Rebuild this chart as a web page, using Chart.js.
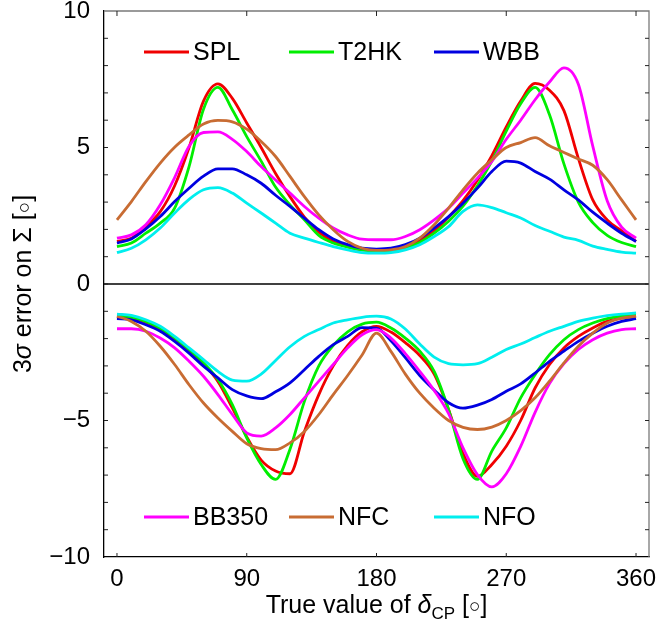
<!DOCTYPE html>
<html>
<head>
<meta charset="utf-8">
<script src="https://cdn.jsdelivr.net/npm/chart.js@4.4.1/dist/chart.umd.min.js"></script>
<style>
  html, body { margin: 0; padding: 0; background: #fff; }
  #wrap { width: 660px; height: 623px; }
</style>
</head>
<body>
<div id="wrap"><canvas id="chart" width="660" height="623"></canvas></div>
<script>
// true value of delta_CP [deg]
const deltaCP = [0, 10, 20, 30, 40, 50, 60, 70, 80, 90, 100, 110, 120, 130, 140, 150, 160, 170, 180,
                 190, 200, 210, 220, 230, 240, 250, 260, 270, 280, 290, 300, 310, 320, 330, 340, 350, 360];

const xTicks = [0, 90, 180, 270, 360];
const yTicks = [-10, -5, 0, 5, 10];

const experiments = ["SPL", "T2HK", "WBB", "BB350", "NFC", "NFO"];
const colors = ["#f00000", "#00ee00", "#0000e0", "#ff00ff", "#c86c33", "#00eeee"];

// upper (+) and lower (-) 3 sigma error on Sigma [deg]
const splUpper = [1.56, 1.68, 2.1, 2.65, 3.6, 5.0, 6.7, 7.33, 6.8, 5.9, 5.0, 4.05, 3.2, 2.45, 1.9, 1.56, 1.37, 1.25, 1.23,
                  1.28, 1.4, 1.6, 1.95, 2.45, 3.05, 3.8, 4.7, 5.75, 6.7, 7.35, 7.1, 6.35, 4.6, 3.08, 2.35, 1.95, 1.56];
const splLower = [-1.22, -1.26, -1.4, -1.66, -2.0, -2.42, -2.92, -3.57, -4.54, -5.6, -6.45, -6.85, -6.95, -5.4, -4.05, -3.0, -2.25, -1.75, -1.55,
                  -1.76, -2.15, -2.62, -3.3, -4.6, -6.2, -7.05, -6.61, -5.94, -5.0, -3.81, -2.95, -2.34, -1.92, -1.61, -1.37, -1.25, -1.18];

const t2hkUpper = [1.37, 1.5, 1.86, 2.23, 2.78, 4.3, 6.4, 7.2, 6.38, 5.4, 4.5, 3.55, 2.9, 2.35, 1.78, 1.5, 1.35, 1.25, 1.22,
                   1.2, 1.31, 1.52, 1.86, 2.3, 2.85, 3.6, 4.5, 5.6, 6.6, 7.2, 6.2, 4.4, 3.0, 2.25, 1.78, 1.52, 1.37];
const t2hkLower = [-1.18, -1.22, -1.37, -1.62, -1.97, -2.4, -2.89, -3.5, -4.42, -5.64, -6.61, -7.16, -6.05, -4.3, -3.0, -2.25, -1.75, -1.47, -1.4,
                   -1.61, -1.98, -2.46, -3.2, -4.6, -6.4, -7.16, -6.12, -5.27, -4.17, -3.32, -2.59, -2.04, -1.67, -1.43, -1.27, -1.18, -1.15];

const wbbUpper = [1.5, 1.65, 2.02, 2.47, 3.02, 3.51, 3.95, 4.22, 4.22, 4.0, 3.69, 3.25, 2.84, 2.41, 1.99, 1.65, 1.44, 1.31, 1.28,
                  1.31, 1.44, 1.68, 2.05, 2.47, 2.96, 3.51, 4.12, 4.5, 4.43, 4.12, 3.84, 3.45, 3.08, 2.63, 2.23, 1.86, 1.56];
const wbbLower = [-1.27, -1.31, -1.49, -1.73, -2.1, -2.53, -3.01, -3.44, -3.87, -4.1, -4.2, -3.95, -3.62, -3.14, -2.65, -2.22, -1.92, -1.6, -1.62,
                  -2.08, -2.7, -3.35, -3.88, -4.35, -4.55, -4.44, -4.23, -3.93, -3.66, -3.26, -2.83, -2.46, -2.1, -1.8, -1.55, -1.37, -1.27];

const bb350Upper = [1.68, 1.8, 2.17, 2.9, 3.9, 5.05, 5.55, 5.57, 5.3, 4.85, 4.3, 3.81, 3.33, 2.84, 2.41, 2.05, 1.8, 1.64, 1.62,
                    1.62, 1.74, 1.99, 2.35, 2.78, 3.33, 3.88, 4.49, 5.3, 6.0, 6.75, 7.4, 7.92, 7.32, 5.05, 3.05, 2.08, 1.68];
const bb350Lower = [-1.64, -1.64, -1.73, -1.98, -2.34, -2.83, -3.38, -4.05, -4.78, -5.45, -5.57, -5.27, -4.78, -4.17, -3.56, -2.95, -2.34, -1.86, -1.67,
                    -1.98, -2.55, -3.2, -3.9, -4.75, -6.0, -6.98, -7.43, -6.95, -5.95, -4.7, -3.65, -2.92, -2.4, -2.04, -1.8, -1.67, -1.64];

const nfcUpper = [2.35, 3.02, 3.75, 4.43, 5.01, 5.46, 5.86, 5.99, 5.94, 5.67, 5.22, 4.67, 3.94, 3.2, 2.53, 1.99, 1.56, 1.31, 1.23,
                  1.25, 1.37, 1.68, 2.17, 2.78, 3.45, 4.06, 4.55, 5.0, 5.18, 5.36, 5.06, 4.82, 4.58, 4.35, 3.82, 3.08, 2.35];
const nfcLower = [-1.18, -1.37, -1.73, -2.28, -2.95, -3.69, -4.36, -4.91, -5.4, -5.85, -6.03, -6.07, -5.82, -5.4, -4.78, -4.05, -3.35, -2.6, -1.8,
                  -2.47, -3.3, -4.0, -4.55, -5.0, -5.25, -5.33, -5.24, -5.0, -4.64, -4.17, -3.56, -2.89, -2.28, -1.8, -1.43, -1.25, -1.18];

const nfoUpper = [1.15, 1.31, 1.62, 2.05, 2.6, 3.1, 3.45, 3.53, 3.33, 2.96, 2.6, 2.23, 1.86, 1.68, 1.52, 1.37, 1.25, 1.15, 1.13,
                  1.15, 1.25, 1.44, 1.74, 2.1, 2.66, 2.9, 2.8, 2.61, 2.42, 2.14, 1.93, 1.72, 1.6, 1.39, 1.27, 1.17, 1.13];
const nfoLower = [-1.1, -1.15, -1.31, -1.55, -1.92, -2.34, -2.77, -3.2, -3.52, -3.56, -3.3, -2.8, -2.3, -1.92, -1.67, -1.43, -1.31, -1.22, -1.18,
                  -1.28, -1.65, -2.2, -2.68, -2.92, -2.96, -2.92, -2.68, -2.4, -2.2, -1.96, -1.73, -1.55, -1.37, -1.25, -1.16, -1.1, -1.06];

const FONT = '"Liberation Sans", Arial, sans-serif';

const seriesList = [
    [splUpper, splLower], [t2hkUpper, t2hkLower], [wbbUpper, wbbLower],
    [bb350Upper, bb350Lower], [nfcUpper, nfcLower], [nfoUpper, nfoLower]
];

// drawing order: last drawn on top (red/green above the rest)
const drawOrder = [5, 4, 3, 2, 1, 0];

function buildDatasets() {
    const sets = [];
    drawOrder.forEach(i => {
        seriesList[i].forEach((vals, k) => {
            sets.push({
                label: experiments[i] + (k === 0 ? " (+)" : " (-)"),
                data: vals.map((v, j) => ({ x: deltaCP[j], y: v })),
                borderColor: colors[i],
                backgroundColor: colors[i],
                borderWidth: 2.8,
                pointRadius: 0,
                fill: false,
                cubicInterpolationMode: "monotone"
            });
        });
    });
    return sets;
}

function drawPieces(ctx, pieces, x, y) {
    // pieces: [text, font, dy]
    pieces.forEach(p => {
        ctx.font = p[1];
        ctx.fillText(p[0], x, y + (p[2] || 0));
        x += ctx.measureText(p[0]).width;
    });
}

function piecesWidth(ctx, pieces) {
    let w = 0;
    pieces.forEach(p => { ctx.font = p[1]; w += ctx.measureText(p[0]).width; });
    return w;
}

const framePlugin = {
    id: "frame",
    beforeDatasetsDraw(chart) {
        const { ctx, chartArea: a, scales: { x, y } } = chart;
        ctx.save();

        // zero line
        ctx.strokeStyle = "#000";
        ctx.lineWidth = 1.3;
        const y0 = y.getPixelForValue(0);
        ctx.beginPath();
        ctx.moveTo(a.left, y0);
        ctx.lineTo(a.right, y0);
        ctx.stroke();

        // top and right frame
        ctx.strokeStyle = "#7a7a7a";
        ctx.lineWidth = 1.3;
        ctx.beginPath();
        ctx.moveTo(a.left, a.top);
        ctx.lineTo(a.right, a.top);
        ctx.lineTo(a.right, a.bottom);
        ctx.stroke();

        // inner ticks
        ctx.strokeStyle = "#222";
        ctx.lineWidth = 1;
        ctx.beginPath();
        xTicks.forEach(v => {
            const px = x.getPixelForValue(v);
            ctx.moveTo(px, a.top);
            ctx.lineTo(px, a.top + 5);
            ctx.moveTo(px, a.bottom);
            ctx.lineTo(px, a.bottom - 4);
        });
        for (let v = y.min + 1; v < y.max; v++) {
            const py = y.getPixelForValue(v);
            ctx.moveTo(a.left, py);
            ctx.lineTo(a.left + 4, py);
            ctx.moveTo(a.right, py);
            ctx.lineTo(a.right - 4, py);
        }
        ctx.stroke();
        ctx.restore();
    },
    afterDraw(chart) {
        const { ctx, chartArea: a } = chart;
        ctx.save();
        ctx.fillStyle = "#000";

        // legend, two rows inside the plot
        ctx.textBaseline = "middle";
        ctx.textAlign = "left";
        experiments.forEach((name, i) => {
            const row = Math.floor(i / 3);
            const col = i % 3;
            const lx = a.left + 40 + col * 145;
            const ly = row === 0 ? a.top + 41 : a.bottom - 40;
            ctx.strokeStyle = colors[i];
            ctx.lineWidth = 3;
            ctx.beginPath();
            ctx.moveTo(lx, ly);
            ctx.lineTo(lx + 45, ly);
            ctx.stroke();
            ctx.font = "25px " + FONT;
            ctx.fillText(name, lx + 49, ly + 1);
        });

        // x axis title
        ctx.textBaseline = "alphabetic";
        const f = "25px " + FONT;
        const xPieces = [
            ["True value of ", f], ["\u03b4", "italic 25px " + FONT], ["CP", "17px " + FONT, 6],
            [" [", f], ["\u25cb", "19px " + FONT, -1], ["]", f]
        ];
        const xw = piecesWidth(ctx, xPieces);
        drawPieces(ctx, xPieces, (a.left + a.right) / 2 - xw / 2, 613);

        // y axis title (rotated)
        const yPieces = [
            ["3", f], ["\u03c3", "italic 25px " + FONT], [" error on \u03a3 [", f],
            ["\u25cb", "19px " + FONT, -1], ["]", f]
        ];
        const yw = piecesWidth(ctx, yPieces);
        ctx.translate(31, (a.top + a.bottom) / 2);
        ctx.rotate(-Math.PI / 2);
        drawPieces(ctx, yPieces, -yw / 2, 0);

        ctx.restore();
    }
};

function renderChart() {
    const ctx = document.getElementById("chart").getContext("2d");

    new Chart(ctx, {
        type: "line",
        data: { datasets: buildDatasets() },
        options: {
            responsive: false,
            animation: false,
            devicePixelRatio: 1,
            layout: { padding: { left: 0, right: 11, top: 11, bottom: 0 } },
            plugins: { legend: { display: false }, tooltip: { enabled: false } },
            scales: {
                x: {
                    type: "linear",
                    min: -9,
                    max: 369,
                    afterBuildTicks: s => { s.ticks = xTicks.map(v => ({ value: v })); },
                    afterFit: s => { s.height = 66; s.paddingLeft = 0; s.paddingRight = 0; },
                    grid: { display: false, drawTicks: false },
                    border: { color: "#000", width: 1.3 },
                    ticks: { color: "#000", font: { family: FONT, size: 24 }, padding: 8, maxRotation: 0 }
                },
                y: {
                    min: -10,
                    max: 10,
                    afterBuildTicks: s => { s.ticks = yTicks.map(v => ({ value: v })); },
                    afterFit: s => { s.width = 104; s.paddingTop = 0; s.paddingBottom = 0; },
                    grid: { display: false, drawTicks: false },
                    border: { color: "#000", width: 1.3 },
                    ticks: {
                        color: "#000",
                        font: { family: FONT, size: 24 },
                        padding: 14,
                        callback: v => (v < 0 ? "\u2212" + Math.abs(v) : String(v))
                    }
                }
            }
        },
        plugins: [framePlugin]
    });
}

renderChart();
</script>
</body>
</html>
